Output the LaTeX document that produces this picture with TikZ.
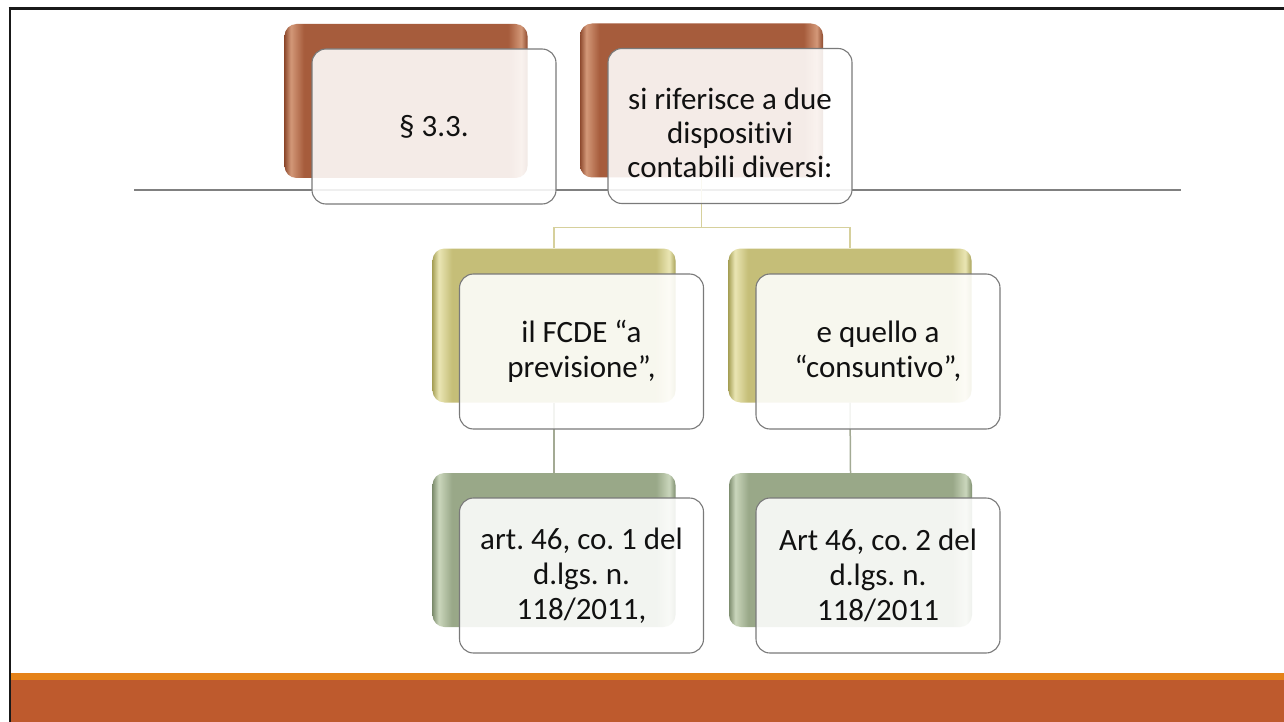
\documentclass[tikz,border=0pt]{standalone}
\usepackage{fontspec}
\setmainfont{Carlito}[Ligatures=NoCommon]
\definecolor{brD}{HTML}{8E4A2E}
\definecolor{brL}{HTML}{D39878}
\definecolor{brM}{HTML}{A65C3C}
\definecolor{yeD}{HTML}{A9A35A}
\definecolor{yeL}{HTML}{EAE6B4}
\definecolor{yeM}{HTML}{C5BE78}
\definecolor{grD}{HTML}{7F8F70}
\definecolor{grL}{HTML}{CAD6BC}
\definecolor{grM}{HTML}{99A888}
\definecolor{frameG}{HTML}{7A7A7A}
\definecolor{lineG}{HTML}{808080}
\definecolor{connY}{HTML}{D6D09C}
\definecolor{connG}{HTML}{A3AA94}
\definecolor{bandO}{HTML}{E5821A}
\definecolor{bandR}{HTML}{BE5A2D}
\definecolor{txtK}{HTML}{111111}
\pgfdeclarehorizontalshading{brownsh}{100bp}{color(0bp)=(brD); color(25bp)=(brD); color(26.3bp)=(brL); color(29bp)=(brM); color(71bp)=(brM); color(73.7bp)=(brL); color(75bp)=(brD); color(100bp)=(brD)}
\pgfdeclarehorizontalshading{yellowsh}{100bp}{color(0bp)=(yeD); color(25bp)=(yeD); color(26.3bp)=(yeL); color(29bp)=(yeM); color(71bp)=(yeM); color(73.7bp)=(yeL); color(75bp)=(yeD); color(100bp)=(yeD)}
\pgfdeclarehorizontalshading{greensh}{100bp}{color(0bp)=(grD); color(25bp)=(grD); color(26.3bp)=(grL); color(29bp)=(grM); color(71bp)=(grM); color(73.7bp)=(grL); color(75bp)=(grD); color(100bp)=(grD)}
\frenchspacing
\begin{document}
\begin{tikzpicture}[x=1pt,y=-1pt,
  backbox/.style={minimum width=243pt, minimum height=154pt, inner sep=0pt,
    rounded corners=12pt, shade, shading=#1},
  frontbox/.style={minimum width=244pt, minimum height=155pt, inner sep=0pt,
    rounded corners=14pt, draw=frameG, line width=1.1pt, fill=white,
    fill opacity=0.88, text opacity=1, text=txtK, align=center,
    font=\fontsize{31}{35}\selectfont},
  txtnode/.style={inner sep=0pt, text=txtK, align=center,
    font=\fontsize{31}{34}\selectfont},
  conntop/.style={draw=connY, line width=1.5pt},
  connlow/.style={draw=connG, line width=1.5pt},
  rule/.style={draw=lineG, line width=1.5pt}
]
\useasboundingbox (0,0) rectangle (1284,722);
\fill[white] (0,0) rectangle (1284,722);
% bottom bands
\fill[bandO] (10,673) rectangle (1284,680);
\fill[bandR] (10,680) rectangle (1284,722);
% frame
\draw[line width=3pt, black!90] (8.5,8.5) -- (1284,8.5);
\draw[line width=2.5pt, black!90] (10,7) -- (10,722);
% horizontal rule
\coordinate (rl) at (134,190);
\coordinate (rr) at (1181,190);
\draw[rule] (rl) -- (rr);
% back boxes
\node[backbox=brownsh] (b1) at (406,101) {};
\node[backbox=brownsh] (b2) at (701.5,100.5) {};
\node[backbox=yellowsh] (b3) at (554,325.5) {};
\node[backbox=yellowsh] (b4) at (850,325.5) {};
\node[backbox=greensh] (b5) at (554,550) {};
\node[backbox=greensh] (b6) at (850.5,550) {};
% connectors
\coordinate (j) at ([yshift=-50pt]b2.south);
\draw[conntop] (b2.south) -- (j);
\draw[conntop] (j) -| (b3.north);
\draw[conntop] (j) -| (b4.north);
\draw[connlow] (b3.south) -- (b5.north);
\draw[connlow] (b4.south) -- (b6.north);
% front boxes
\node[frontbox] (f1) at (434,126.5) {\S\ 3.3.};
\node[frontbox] (f2) at (730,126) {};
\node[txtnode] (t2) at ([yshift=-7pt]f2.center) {si riferisce a due\\dispositivi\\contabili diversi:};
\node[frontbox] (f3) at (581.5,351.5) {il FCDE “a\\previsione”,};
\node[frontbox] (f4) at (878,351.5) {e quello a\\“consuntivo”,};
\node[frontbox] (f5) at (581.5,575.5) {art. 46, co. 1 del\\d.lgs. n.\\118/2011,};
\node[frontbox] (f6) at (878,575.5) {Art 46, co. 2 del\\d.lgs. n.\\118/2011};
\end{tikzpicture}
\end{document}
